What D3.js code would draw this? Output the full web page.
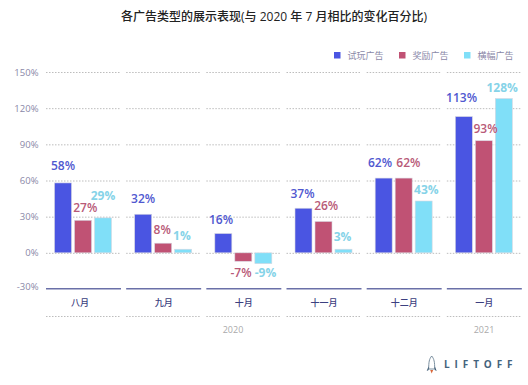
<!DOCTYPE html>
<html>
<head>
<meta charset="utf-8">
<script src="https://cdnjs.cloudflare.com/ajax/libs/d3/7.8.5/d3.min.js"></script>
<style>
  html, body { margin: 0; padding: 0; background: #fff; }
  text { font-family: "Open Sans", "Noto Sans CJK SC", sans-serif; }
</style>
</head>
<body>
<div id="chart"></div>
<script>
// Data
const months = ['八月', '九月', '十月', '十一月', '十二月', '一月'];
const seriesNames = ['试玩广告', '奖励广告', '横幅广告'];
const playable = [58, 32, 16, 37, 62, 113];
const rewarded = [27, 8, -7, 26, 62, 93];
const banner = [29, 3, -9, 3, 43, 128];
const bannerLabels = [29, 1, -9, 3, 43, 128];
const yTicks = [-30, 0, 30, 60, 90, 120, 150];
const yearNames = ['2020', '2021'];

const WIDTH = 528;
const HEIGHT = 385;
const COLORS = ['#4a55e2', '#c05274', '#80dff8'];
const LABEL_COLORS = ['#5058d0', '#b85a78', '#86d3e8'];
const BAR_W = 17;
const SEG_W = 75;

// labels are hand placed in the original: gap from bar end to baseline, and sideways shift
const labelGap = [
  [13, 11, 10, 10, 11, 15],
  [8, 9, 15.6, 11.6, 11, 7.5],
  [18, 9.4, 13, 8.7, 7, 7]
];
const labelShift = [
  [0, 0, -2.3, -1, -3.7, -2.3],
  [2.3, -1, -2.3, 2.7, 4.7, 1.7],
  [0, -1.3, 2.2, -1, 2.7, -1.7]
];

const svg = d3.select('#chart').append('svg')
  .attr('width', WIDTH)
  .attr('height', HEIGHT)
  .style('display', 'block');

const y = d3.scaleLinear().domain([-30, 150]).range([289, 72]);
const x = d3.scaleBand().domain(months).range([43, 524]);
const inner = d3.scaleBand().domain(d3.range(3)).range([10, 70]);

function groupX(i) { return x(months[i]) + 3; }

// title
svg.append('text')
  .attr('x', 274).attr('y', 21)
  .attr('text-anchor', 'middle')
  .attr('font-size', 12)
  .attr('font-weight', 500)
  .attr('fill', '#222')
  .text('各广告类型的展示表现(与 2020 年 7 月相比的变化百分比)');

// legend
const legendX = [334, 399, 464];
seriesNames.forEach((name, i) => {
  svg.append('rect')
    .attr('x', legendX[i]).attr('y', 52)
    .attr('width', 6.5).attr('height', 6.5)
    .attr('fill', COLORS[i]);
  svg.append('text')
    .attr('x', legendX[i] + 13.5).attr('y', 59)
    .attr('font-size', 9)
    .attr('fill', '#8a88a8')
    .text(name);
});

// y axis: labels only, gridlines are segmented per month
const yAxis = svg.append('g')
  .attr('transform', 'translate(38.5,0)')
  .call(d3.axisLeft(y).tickValues(yTicks).tickSize(0).tickPadding(0).tickFormat(d => d + '%'));
yAxis.select('.domain').remove();
yAxis.selectAll('text')
  .attr('font-size', 9.5)
  .attr('font-family', '"Open Sans", sans-serif')
  .attr('fill', '#8a88a8')
  .attr('dy', d => d === -30 ? '0.05em' : '0.32em');

months.forEach((m, i) => {
  svg.append('g').selectAll('line')
    .data(yTicks.filter(t => t >= 0))
    .join('line')
    .attr('x1', groupX(i)).attr('x2', groupX(i) + SEG_W)
    .attr('y1', d => y(d) + 0.5).attr('y2', d => y(d) + 0.5)
    .attr('stroke', '#bdbdbd')
    .attr('stroke-width', 1)
    .attr('stroke-dasharray', '1.5 1.5');
});

// bars
[playable, rewarded, banner].forEach((values, s) => {
  svg.append('g').selectAll('rect')
    .data(values)
    .join('rect')
    .attr('x', (d, i) => x(months[i]) + inner(s) + (inner.bandwidth() - BAR_W) / 2)
    .attr('width', BAR_W)
    .attr('y', d => y(Math.max(d, 0)))
    .attr('height', d => Math.abs(y(d) - y(0)))
    .attr('fill', COLORS[s])
    .attr('stroke', '#d8d8e2')
    .attr('stroke-width', 0.6);
});

// value labels
[playable, rewarded, bannerLabels].forEach((values, s) => {
  const barValues = [playable, rewarded, banner][s];
  svg.append('g').selectAll('text')
    .data(values)
    .join('text')
    .attr('x', (d, i) => x(months[i]) + inner(s) + inner.bandwidth() / 2 + labelShift[s][i])
    .attr('y', (d, i) => barValues[i] < 0
      ? y(barValues[i]) + labelGap[s][i]
      : y(barValues[i]) - labelGap[s][i])
    .attr('text-anchor', 'middle')
    .attr('font-size', 12)
    .attr('font-weight', s === 2 ? 700 : 600)
    .attr('fill', LABEL_COLORS[s])
    .text(d => d + '%');
});

// month axis
months.forEach((m, i) => {
  svg.append('line')
    .attr('x1', groupX(i)).attr('x2', groupX(i) + SEG_W)
    .attr('y1', 288.8).attr('y2', 288.8)
    .attr('stroke', '#6a70a8')
    .attr('stroke-width', 1.6);
  svg.append('text')
    .attr('x', groupX(i) + SEG_W / 2 - (i === 0 ? 3.5 : 0)).attr('y', 306)
    .attr('text-anchor', 'middle')
    .attr('font-size', 9)
    .attr('font-weight', 500)
    .attr('fill', '#3c4080')
    .text(m);
  svg.append('line')
    .attr('x1', groupX(i)).attr('x2', groupX(i) + SEG_W)
    .attr('y1', 316.5).attr('y2', 316.5)
    .attr('stroke', '#bdbdbd')
    .attr('stroke-dasharray', '1.5 1.5');
});

// years
const yearX = [233, 484];
yearNames.forEach((name, i) => {
  svg.append('text')
    .attr('x', yearX[i])
    .attr('y', 333)
    .attr('text-anchor', 'middle')
    .attr('font-size', 9)
    .attr('fill', '#aaa')
    .text(name);
});

// logo
const logo = svg.append('g').attr('transform', 'translate(431.7,366)');
logo.append('path').attr('d', 'M0 -10 C2.5 -7 3 -4 3 3 L-3 3 C-3 -4 -2.5 -7 0 -10 Z')
  .attr('fill', '#fff').attr('stroke', '#5a7488').attr('stroke-width', 0.8);
logo.append('path').attr('d', 'M-3 0 L-5 5 L-3 4 Z M3 0 L5 5 L3 4 Z').attr('fill', '#3d5a73');
logo.append('path').attr('d', 'M-1.5 4 L1.5 4 L0 7.5 Z').attr('fill', '#d9673a');
svg.append('text')
  .attr('x', 444).attr('y', 368.3)
  .attr('font-size', 10)
  .attr('font-weight', 700)
  .attr('letter-spacing', 4.9)
  .attr('fill', '#44637c')
  .text('LIFTOFF');
</script>
</body>
</html>
